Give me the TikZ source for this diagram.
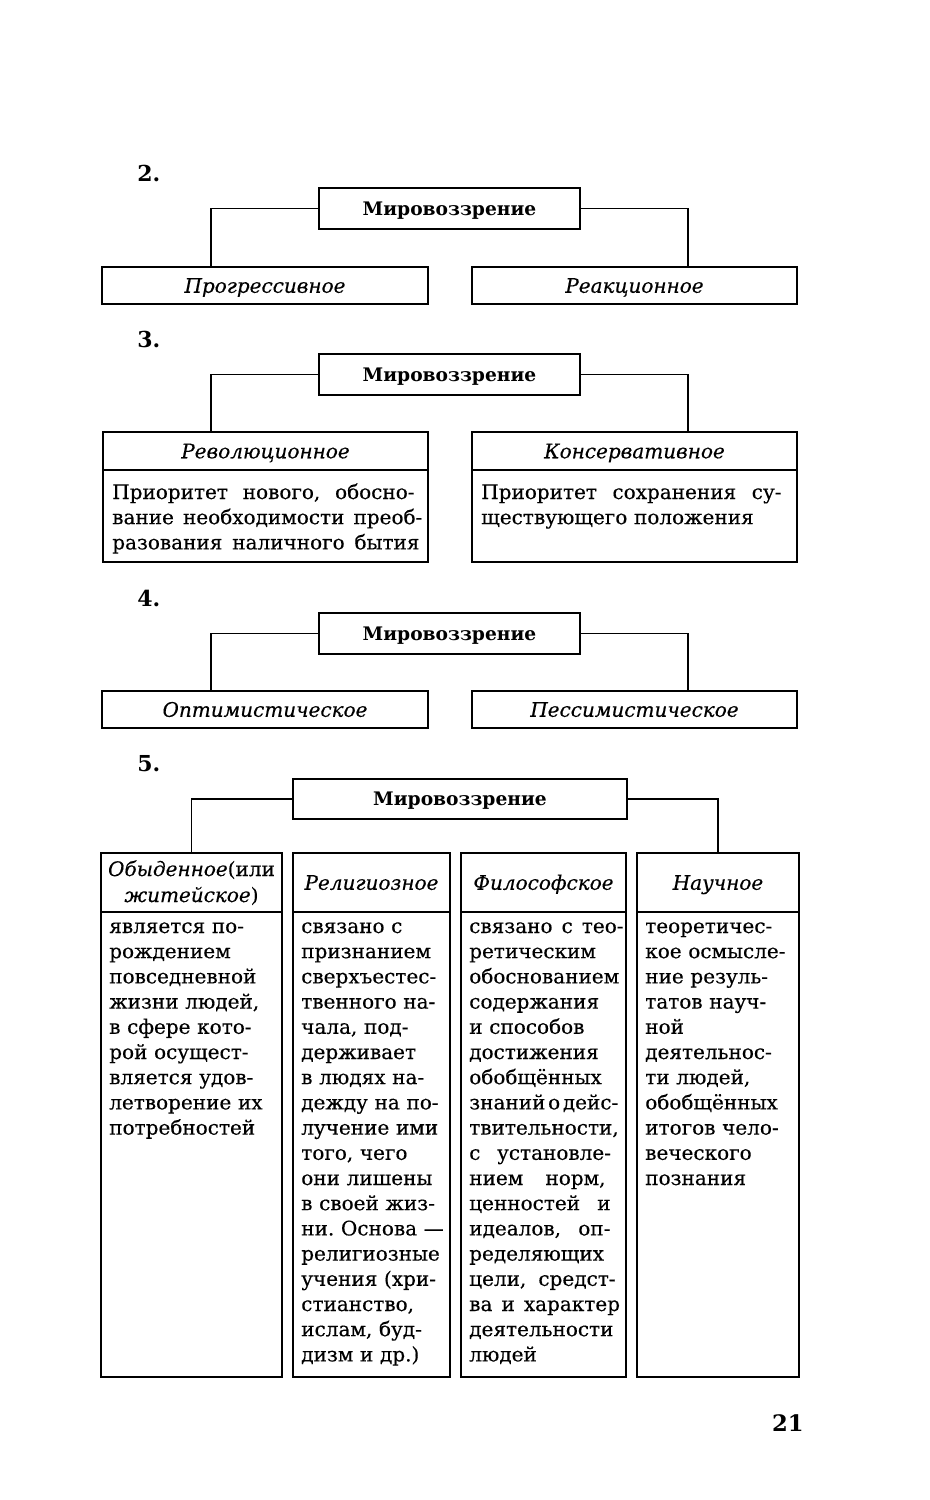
\documentclass[tikz,border=0pt]{standalone}
\usepackage{fontspec}
\setmainfont{DejaVu Serif}[UprightFeatures={FakeBold=0.35}, ItalicFeatures={FakeBold=0.35}]
\usetikzlibrary{fit}
\newcommand\jl[2]{\makebox[#1][l]{#2}}
\newcommand\hf{\hspace{0.12em plus 1fil}}
\frenchspacing
\begin{document}
\begin{tikzpicture}[x=0.75pt,y=-0.75pt,
 bx/.style={draw, line width=0.95pt, inner sep=0pt},
 conn/.style={line width=0.85pt},
 ttl/.style={font=\fontsize{14pt}{16pt}\selectfont\bfseries, inner sep=0pt, text height=10.2pt, text depth=0pt},
 hd/.style={font=\fontsize{15pt}{19pt}\selectfont\itshape, inner sep=0pt, text height=10.9pt, text depth=0pt},
 num/.style={font=\fontsize{16.5pt}{18pt}\selectfont\bfseries, inner sep=0pt, anchor=base west},
 bodytxt/.style={font=\fontsize{15pt}{18.9pt}\selectfont, inner sep=0pt, anchor=base west, align=left, text width=#1},
]
\useasboundingbox (0,0) rectangle (930,1500);

% ---------- 2 ----------
\node[num] (n2) at (137,181) {2.};
\node[bx, fit={(319,188) (580,229)}] (m2) {};
\node[ttl] (m2t) at (m2) {Мировоззрение};
\node[bx, fit={(102,267) (428,304)}] (p2a) {};
\node[hd] (p2at) at (p2a) {Прогрессивное};
\node[bx, fit={(472,267) (797,304)}] (p2b) {};
\node[hd] (p2bt) at (p2b) {Реакционное};
\coordinate (c2a) at (211,267);
\coordinate (c2b) at (688,267);
\draw[conn] (m2.west) -| (c2a);
\draw[conn] (m2.east) -| (c2b);

% ---------- 3 ----------
\node[num] (n3) at (137,347) {3.};
\node[bx, fit={(319,354) (580,395)}] (m3) {};
\node[ttl] (m3t) at (m3) {Мировоззрение};
\node[bx, fit={(103,432) (428,470)}] (h3a) {};
\node[hd] (h3at) at (h3a) {Революционное};
\node[bx, fit={(103,470) (428,562)}] (b3a) {};
\node[bx, fit={(472,432) (797,470)}] (h3b) {};
\node[hd] (h3bt) at (h3b) {Консервативное};
\node[bx, fit={(472,470) (797,562)}] (b3b) {};
\coordinate (c3a) at (211,432);
\coordinate (c3b) at (688,432);
\draw[conn] (m3.west) -| (c3a);
\draw[conn] (m3.east) -| (c3b);
\node[bodytxt=250pt] (b3at) at (112,499) {\jl{231pt}{Приоритет\hf\ нового,\hf\ обосно-}\\
\jl{231pt}{вание\hf\ необходимости\hf\ преоб-}\\
\jl{231pt}{разования\hf\ наличного\hf\ бытия}};
\node[bodytxt=250pt] (b3bt) at (481,499) {\jl{230pt}{Приоритет\hf\ сохранения\hf\ су-}\\
ществующего положения};

% ---------- 4 ----------
\node[num] (n4) at (137,606) {4.};
\node[bx, fit={(319,613) (580,654)}] (m4) {};
\node[ttl] (m4t) at (m4) {Мировоззрение};
\node[bx, fit={(102,691) (428,728)}] (p4a) {};
\node[hd] (p4at) at (p4a) {Оптимистическое};
\node[bx, fit={(472,691) (797,728)}] (p4b) {};
\node[hd] (p4bt) at (p4b) {Пессимистическое};
\coordinate (c4a) at (211,691);
\coordinate (c4b) at (688,691);
\draw[conn] (m4.west) -| (c4a);
\draw[conn] (m4.east) -| (c4b);

% ---------- 5 ----------
\node[num] (n5) at (137,771) {5.};
\node[bx, fit={(293,779) (627,819)}] (m5) {};
\node[ttl] (m5t) at (m5) {Мировоззрение};
\node[bx, fit={(101,853) (282,912)}] (h5a) {};
\node[bx, fit={(293,853) (450,912)}] (h5b) {};
\node[bx, fit={(461,853) (626,912)}] (h5c) {};
\node[bx, fit={(637,853) (799,912)}] (h5d) {};
\node[bx, fit={(101,912) (282,1377)}] (b5a) {};
\node[bx, fit={(293,912) (450,1377)}] (b5b) {};
\node[bx, fit={(461,912) (626,1377)}] (b5c) {};
\node[bx, fit={(637,912) (799,1377)}] (b5d) {};
\draw[conn] (m5.west) -| (h5a.north);
\draw[conn] (m5.east) -| (h5d.north);

\node[font=\fontsize{15pt}{19.5pt}\selectfont, inner sep=0pt, anchor=base, align=center, text width=135pt] (h5at) at (191.5,876)
 {{\itshape Обыденное}(или\\{\itshape житейское})};
\node[hd] (h5bt) at (h5b) {Религиозное};
\node[hd] (h5ct) at (h5c) {Философское};
\node[hd] (h5dt) at (h5d) {Научное};

\node[bodytxt=140pt] (b5at) at (109,933) {является по-\\
рождением\\
повседневной\\
жизни людей,\\
в сфере кото-\\
рой осущест-\\
вляется удов-\\
летворение их\\
потребностей};

\node[bodytxt=125pt] (b5bt) at (301,933) {связано с\\
признанием\\
сверхъестес-\\
твенного на-\\
чала, под-\\
держивает\\
в людях на-\\
дежду на по-\\
лучение ими\\
того, чего\\
они лишены\\
в своей жиз-\\
ни. Основа —\\
религиозные\\
учения (хри-\\
стианство,\\
ислам, буд-\\
дизм и др.)};

\node[bodytxt=130pt] (b5ct) at (469,933) {\jl{112pt}{связано\hf\ с\hf\ тео-}\\
ретическим\\
обоснованием\\
содержания\\
и способов\\
достижения\\
обобщённых\\
\jl{112pt}{знаний\hf о\hf дейс-}\\
твительности,\\
\jl{112pt}{с\hf\ установле-}\\
\jl{112pt}{нием\hf\ норм,}\\
\jl{112pt}{ценностей\hf\ и}\\
\jl{112pt}{идеалов,\hf\ оп-}\\
ределяющих\\
\jl{112pt}{цели,\hf\ средст-}\\
\jl{112pt}{ва\hf\ и\hf\ характер}\\
деятельности\\
людей};

\node[bodytxt=125pt] (b5dt) at (645,933) {теоретичес-\\
кое осмысле-\\
ние резуль-\\
татов науч-\\
ной\\
деятельнос-\\
ти людей,\\
обобщённых\\
итогов чело-\\
веческого\\
познания};

\node[font=\fontsize{17pt}{18pt}\selectfont\bfseries, inner sep=0pt, anchor=base east] (pg) at (804,1431) {21};
\end{tikzpicture}
\end{document}
